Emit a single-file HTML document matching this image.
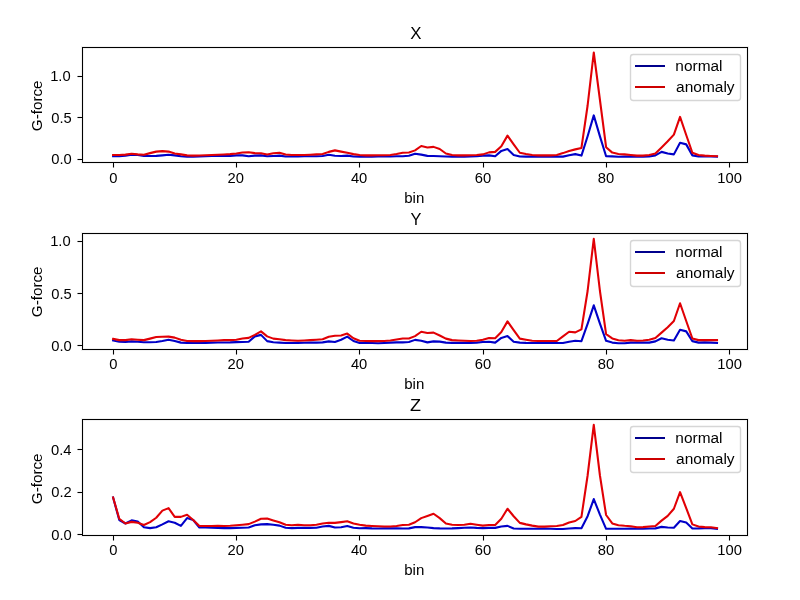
<!DOCTYPE html>
<html lang="en">
<head>
<meta charset="utf-8">
<title>G-force spectrum: normal vs anomaly (X, Y, Z)</title>
<style>
html,body{margin:0;padding:0;background:#fff}
#fig{position:relative;width:800px;height:600px;overflow:hidden;background:#fff;font-family:"Liberation Sans",sans-serif;color:#000}
#fig svg{position:absolute;left:0;top:0;display:block}
#labels{position:absolute;left:0;top:0;width:800px;height:600px;will-change:transform;filter:grayscale(1)}
.t{position:absolute;left:0;top:0;white-space:nowrap;line-height:1;transform-origin:0 0;margin:0;padding:0}
</style>
</head>
<body>
<div id="fig">
<svg width="800" height="600" viewBox="0 0 800 600">
<rect x="0" y="0" width="800" height="600" fill="#ffffff"/>
<polyline points="113.1,156.25 119.26,156.25 125.42,155.62 131.59,154.62 137.75,155 143.91,156 150.07,156 156.24,155.88 162.4,155.38 168.56,154.75 174.72,155.38 180.89,156.25 187.05,156.62 193.21,156.62 199.38,156.5 205.54,156.25 211.7,156 217.86,156 224.02,156 230.19,155.88 236.35,155.38 242.51,155.38 248.67,156.25 254.84,155.62 261,155.38 267.16,156.25 273.32,156 279.49,155.62 285.65,156.5 291.81,156.5 297.98,156.5 304.14,156.25 310.3,156.25 316.46,156.25 322.62,156 328.79,154.75 334.95,155.75 341.11,156 347.27,155.62 353.44,156.5 359.6,156.62 365.76,156.62 371.92,156.62 378.09,156.5 384.25,156.5 390.41,156.5 396.57,156.25 402.74,156.25 408.9,155.75 415.06,153.75 421.23,154.62 427.39,155.88 433.55,156 439.71,156.25 445.88,156.5 452.04,156.62 458.2,156.62 464.36,156.62 470.52,156.5 476.69,156.25 482.85,155.62 489.01,155.38 495.17,156.25 501.34,150.88 507.5,149.12 513.66,155 519.82,156.5 525.99,156.62 532.15,156.62 538.31,156.62 544.48,156.62 550.64,156.62 556.8,156.62 562.96,156.62 569.12,155.25 575.29,154.12 581.45,155.6 587.61,136.2 593.77,115.4 599.94,136.4 606.1,156.2 612.26,156.4 618.42,156.7 624.59,156.6 630.75,156.5 636.91,156.62 643.08,156.62 649.24,156.5 655.4,155.38 661.56,151.88 667.73,153.5 673.89,154.38 680.05,142.75 686.21,144.38 692.38,155.38 698.54,156.5 704.7,156.5 710.86,156.5 717.02,156.62" fill="none" stroke="#0000c8" stroke-width="2.083" stroke-linejoin="round" stroke-linecap="square"/>
<polyline points="113.1,155 119.26,155 125.42,154.62 131.59,153.75 137.75,154.38 143.91,154.75 150.07,153.12 156.24,151.62 162.4,151.12 168.56,151.62 174.72,153.5 180.89,154.38 187.05,155.38 193.21,155.62 199.38,155.5 205.54,155.25 211.7,155 217.86,154.75 224.02,154.5 230.19,154.12 236.35,153.5 242.51,152.5 248.67,152.25 254.84,153.12 261,153.25 267.16,154.5 273.32,153.25 279.49,152.75 285.65,154.5 291.81,155 297.98,155 304.14,155 310.3,154.75 316.46,154.38 322.62,154 328.79,151.88 334.95,150.38 341.11,151.62 347.27,152.75 353.44,154.12 359.6,155 365.76,155.38 371.92,155.38 378.09,155.25 384.25,155.25 390.41,155 396.57,154 402.74,152.75 408.9,152.5 415.06,150.38 421.23,146 427.39,147.5 433.55,146.88 439.71,149 445.88,153.5 452.04,155 458.2,155.38 464.36,155.38 470.52,155.25 476.69,155 482.85,154.38 489.01,152.38 495.17,151.88 501.34,146.25 507.5,135.62 513.66,144.38 519.82,152.75 525.99,154 532.15,155 538.31,155.38 544.48,155.38 550.64,155.38 556.8,155 562.96,153.12 569.12,151 575.29,149.38 581.45,147.9 587.61,105.5 593.77,52.5 599.94,100 606.1,147.2 612.26,152.6 618.42,154 624.59,154.4 630.75,155 636.91,155.62 643.08,155.62 649.24,155 655.4,153.5 661.56,147.5 667.73,141.25 673.89,134.62 680.05,116.88 686.21,135 692.38,152.75 698.54,155 704.7,155.62 710.86,156 717.02,156.25" fill="none" stroke="#e10005" stroke-width="2.083" stroke-linejoin="round" stroke-linecap="square"/>
<path d="M112 163h3v4.5h-3zM235 163h3v4.5h-3zM358 163h3v4.5h-3zM482 163h3v4.5h-3zM605 163h3v4.5h-3zM728 163h3v4.5h-3zM77.5 158h4.5v3h-4.5zM77.5 116h4.5v3h-4.5zM77.5 75h4.5v3h-4.5zM81 46h668v3h-668zM81 161h668v3h-668zM81 46h3v118h-3zM746 46h3v118h-3z" fill="#000" fill-opacity="0.055"/>
<path d="M113 163h1v4.5h-1zM236 163h1v4.5h-1zM359 163h1v4.5h-1zM483 163h1v4.5h-1zM606 163h1v4.5h-1zM729 163h1v4.5h-1zM77.5 159h4.5v1h-4.5zM77.5 117h4.5v1h-4.5zM77.5 76h4.5v1h-4.5zM82 47h666v1h-666zM82 162h666v1h-666zM82 47h1v116h-1zM747 47h1v116h-1z" fill="#000"/>
<rect x="630.5" y="54.5" width="110" height="46" rx="2.8" ry="2.8" fill="#fff" fill-opacity="0.8" stroke="#ccc" stroke-opacity="0.8" stroke-width="1.39"/>
<rect x="635" y="65" width="30" height="2" fill="#00008c"/>
<rect x="635" y="86" width="30" height="2" fill="#cd0000"/>
<polyline points="113.1,340.5 119.26,341.75 125.42,342 131.59,341.38 137.75,341.75 143.91,342.25 150.07,342.25 156.24,342 162.4,341 168.56,339.75 174.72,341 180.89,342.62 187.05,343 193.21,343 199.38,343 205.54,342.88 211.7,342.62 217.86,342.5 224.02,342.5 230.19,342.38 236.35,342.12 242.51,342 248.67,341.75 254.84,336.38 261,334.88 267.16,341.12 273.32,342.25 279.49,342.62 285.65,343 291.81,343 297.98,342.88 304.14,342.75 310.3,342.62 316.46,342.62 322.62,342.38 328.79,341.38 334.95,342 341.11,339.75 347.27,336.62 353.44,341 359.6,342.88 365.76,343 371.92,343 378.09,343.25 384.25,343 390.41,342.62 396.57,342.38 402.74,342.38 408.9,342 415.06,339.88 421.23,340.75 427.39,342.38 433.55,341.38 439.71,341.62 445.88,342.62 452.04,342.88 458.2,342.88 464.36,342.88 470.52,342.88 476.69,342.62 482.85,342 489.01,341.75 495.17,342.62 501.34,337.88 507.5,336.12 513.66,341.75 519.82,342.62 525.99,342.88 532.15,343 538.31,343 544.48,343 550.64,343 556.8,343 562.96,343 569.12,341.75 575.29,340.75 581.45,341.2 587.61,323.8 593.77,305.3 599.94,323.6 606.1,340.8 612.26,342.6 618.42,343.2 624.59,343.2 630.75,342.62 636.91,342.62 643.08,342.62 649.24,342.62 655.4,341.38 661.56,338.25 667.73,339.75 673.89,340.5 680.05,329.75 686.21,331.38 692.38,341.12 698.54,342.62 704.7,342.38 710.86,342.62 717.02,343" fill="none" stroke="#0000c8" stroke-width="2.083" stroke-linejoin="round" stroke-linecap="square"/>
<polyline points="113.1,338.88 119.26,340.12 125.42,340.12 131.59,339.25 137.75,339.75 143.91,340.12 150.07,338.62 156.24,337 162.4,336.75 168.56,336.62 174.72,337.62 180.89,339.75 187.05,341 193.21,341.12 199.38,341.12 205.54,341 211.7,340.75 217.86,340.5 224.02,340.12 230.19,340.12 236.35,339.75 242.51,338.5 248.67,337.88 254.84,334.88 261,331.38 267.16,336.38 273.32,338.62 279.49,339.25 285.65,340.12 291.81,340.5 297.98,340.75 304.14,340.5 310.3,340.12 316.46,339.75 322.62,339.25 328.79,336.75 334.95,335.75 341.11,335.5 347.27,333.62 353.44,338.25 359.6,340.75 365.76,341 371.92,341.12 378.09,341.12 384.25,341 390.41,340.5 396.57,339.5 402.74,338.5 408.9,338.5 415.06,336.12 421.23,331.75 427.39,333 433.55,332.62 439.71,335.5 445.88,338.62 452.04,340.12 458.2,340.5 464.36,340.75 470.52,341 476.69,340.75 482.85,339.75 489.01,338 495.17,338.25 501.34,332 507.5,321.38 513.66,330.12 519.82,338.62 525.99,339.75 532.15,340.75 538.31,341 544.48,341 550.64,341 556.8,341 562.96,336.38 569.12,331.75 575.29,332.38 581.45,329.4 587.61,291 593.77,238.8 599.94,291 606.1,334.2 612.26,338.4 618.42,340.2 624.59,340.8 630.75,340.12 636.91,340.75 643.08,340.5 649.24,339.75 655.4,338 661.56,332.62 667.73,327.25 673.89,321 680.05,303.25 686.21,321 692.38,338.5 698.54,340.12 704.7,340.12 710.86,340.12 717.02,340.12" fill="none" stroke="#e10005" stroke-width="2.083" stroke-linejoin="round" stroke-linecap="square"/>
<path d="M112 350h3v4.5h-3zM235 350h3v4.5h-3zM358 350h3v4.5h-3zM482 350h3v4.5h-3zM605 350h3v4.5h-3zM728 350h3v4.5h-3zM77.5 344h4.5v3h-4.5zM77.5 292h4.5v3h-4.5zM77.5 240h4.5v3h-4.5zM81 232h668v3h-668zM81 348h668v3h-668zM81 232h3v119h-3zM746 232h3v119h-3z" fill="#000" fill-opacity="0.055"/>
<path d="M113 350h1v4.5h-1zM236 350h1v4.5h-1zM359 350h1v4.5h-1zM483 350h1v4.5h-1zM606 350h1v4.5h-1zM729 350h1v4.5h-1zM77.5 345h4.5v1h-4.5zM77.5 293h4.5v1h-4.5zM77.5 241h4.5v1h-4.5zM82 233h666v1h-666zM82 349h666v1h-666zM82 233h1v117h-1zM747 233h1v117h-1z" fill="#000"/>
<rect x="630.5" y="240.5" width="110" height="46" rx="2.8" ry="2.8" fill="#fff" fill-opacity="0.8" stroke="#ccc" stroke-opacity="0.8" stroke-width="1.39"/>
<rect x="635" y="251" width="30" height="2" fill="#00008c"/>
<rect x="635" y="272" width="30" height="2" fill="#cd0000"/>
<polyline points="113.1,497.5 119.26,520 125.42,523.5 131.59,520.38 137.75,521.5 143.91,527.25 150.07,528.12 156.24,527.25 162.4,524.38 168.56,521.25 174.72,522.75 180.89,525.88 187.05,518.12 193.21,520 199.38,527.5 205.54,527.5 211.7,527.75 217.86,527.88 224.02,528.12 230.19,528.12 236.35,527.88 242.51,527.75 248.67,527.5 254.84,525.25 261,524.38 267.16,524.12 273.32,524.75 279.49,525.62 285.65,527.75 291.81,528.12 297.98,527.88 304.14,527.88 310.3,527.88 316.46,527.75 322.62,526.5 328.79,525.88 334.95,527.5 341.11,527.25 347.27,526 353.44,527.75 359.6,528.25 365.76,528.12 371.92,528.38 378.09,528.5 384.25,528.38 390.41,528.38 396.57,528.38 402.74,528.5 408.9,528.38 415.06,527.12 421.23,527.12 427.39,527.5 433.55,528.12 439.71,528.38 445.88,528.5 452.04,528.38 458.2,528.12 464.36,527.75 470.52,527.5 476.69,527.88 482.85,528.12 489.01,527.88 495.17,527.88 501.34,526.5 507.5,525.88 513.66,528.5 519.82,528.75 525.99,528.75 532.15,528.75 538.31,528.75 544.48,528.5 550.64,528.75 556.8,529 562.96,529 569.12,528.5 575.29,528.12 581.45,528.2 587.61,516.2 593.77,499.1 599.94,514.6 606.1,528.8 612.26,528.8 618.42,528.8 624.59,528.8 630.75,528.5 636.91,528.75 643.08,528.75 649.24,528.5 655.4,528.38 661.56,526.88 667.73,527.5 673.89,527.75 680.05,521 686.21,522.5 692.38,528.5 698.54,528.38 704.7,528.12 710.86,528.12 717.02,528.75" fill="none" stroke="#0000c8" stroke-width="2.083" stroke-linejoin="round" stroke-linecap="square"/>
<polyline points="113.1,497.5 119.26,518.75 125.42,523.5 131.59,521.88 137.75,522.75 143.91,525 150.07,522.12 156.24,517.75 162.4,510.62 168.56,508.12 174.72,516.88 180.89,516.88 187.05,514.75 193.21,520 199.38,526 205.54,526 211.7,526 217.86,525.75 224.02,526 230.19,525.75 236.35,525.25 242.51,524.75 248.67,524.12 254.84,521.62 261,518.75 267.16,518.5 273.32,520.38 279.49,522.25 285.65,524.75 291.81,525.25 297.98,524.75 304.14,525.25 310.3,525.25 316.46,524.75 322.62,523.5 328.79,522.75 334.95,522.88 341.11,522.12 347.27,521.25 353.44,523.5 359.6,524.75 365.76,525.62 371.92,526 378.09,526.25 384.25,526.5 390.41,526.5 396.57,526 402.74,525 408.9,524.75 415.06,522.25 421.23,518.12 427.39,516 433.55,513.75 439.71,518.12 445.88,523.5 452.04,524.75 458.2,525 464.36,524.75 470.52,523.75 476.69,524.75 482.85,525.62 489.01,525 495.17,525 501.34,518.75 507.5,508.75 513.66,516.25 519.82,522.88 525.99,524.38 532.15,525.62 538.31,526.62 544.48,526.62 550.64,526.25 556.8,526 562.96,525 569.12,522.5 575.29,521 581.45,516.8 587.61,475.5 593.77,424.8 599.94,475.5 606.1,515 612.26,523.4 618.42,525.2 624.59,525.8 630.75,526.25 636.91,527.25 643.08,527.12 649.24,526.5 655.4,526 661.56,520.62 667.73,515.88 673.89,508.75 680.05,492.12 686.21,508.12 692.38,524.38 698.54,526.5 704.7,527.12 710.86,527.25 717.02,528.12" fill="none" stroke="#e10005" stroke-width="2.083" stroke-linejoin="round" stroke-linecap="square"/>
<path d="M112 536h3v4.5h-3zM235 536h3v4.5h-3zM358 536h3v4.5h-3zM482 536h3v4.5h-3zM605 536h3v4.5h-3zM728 536h3v4.5h-3zM77.5 533h4.5v3h-4.5zM77.5 491h4.5v3h-4.5zM77.5 448h4.5v3h-4.5zM81 418h668v3h-668zM81 534h668v3h-668zM81 418h3v119h-3zM746 418h3v119h-3z" fill="#000" fill-opacity="0.055"/>
<path d="M113 536h1v4.5h-1zM236 536h1v4.5h-1zM359 536h1v4.5h-1zM483 536h1v4.5h-1zM606 536h1v4.5h-1zM729 536h1v4.5h-1zM77.5 534h4.5v1h-4.5zM77.5 492h4.5v1h-4.5zM77.5 449h4.5v1h-4.5zM82 419h666v1h-666zM82 535h666v1h-666zM82 419h1v117h-1zM747 419h1v117h-1z" fill="#000"/>
<rect x="630.5" y="426.5" width="110" height="46" rx="2.8" ry="2.8" fill="#fff" fill-opacity="0.8" stroke="#ccc" stroke-opacity="0.8" stroke-width="1.39"/>
<rect x="635" y="437" width="30" height="2" fill="#00008c"/>
<rect x="635" y="458" width="30" height="2" fill="#cd0000"/>
</svg>
<div id="labels">
<div class="t" style="font-size:16.333px;transform:translate(410.203px,24.982px) scale(1.0298,1)">X</div>
<div class="t" style="font-size:14.019px;transform:translate(404.191px,191.019px) scale(1.0753,1)">bin</div>
<div class="t" style="font-size:14.019px;transform:translate(30.003px,131.13px) rotate(-90deg) scale(1.0852,1)">G-force</div>
<div class="t" style="font-size:14.019px;transform:translate(675.372px,59.003px) scale(1.1013,1)">normal</div>
<div class="t" style="font-size:14.019px;transform:translate(676.066px,80.021px) scale(1.1052,1)">anomaly</div>
<div class="t" style="font-size:15.147px;transform:translate(109.243px,170.021px) scale(0.9743,1)">0</div>
<div class="t" style="font-size:15.147px;transform:translate(227.502px,169.982px) scale(0.9743,1)">20</div>
<div class="t" style="font-size:15.147px;transform:translate(350.887px,170.02px) scale(0.9743,1)">40</div>
<div class="t" style="font-size:15.147px;transform:translate(474.707px,170.019px) scale(0.9743,1)">60</div>
<div class="t" style="font-size:15.147px;transform:translate(597.774px,170.007px) scale(0.9743,1)">80</div>
<div class="t" style="font-size:15.147px;transform:translate(717.317px,169.986px) scale(0.9743,1)">100</div>
<div class="t" style="font-size:15.147px;transform:translate(51.191px,151.022px) scale(0.9743,1)">0.0</div>
<div class="t" style="font-size:15.147px;transform:translate(51.19px,110.008px) scale(0.9743,1)">0.5</div>
<div class="t" style="font-size:15.147px;transform:translate(50.15px,67.982px) scale(0.9743,1)">1.0</div>
<div class="t" style="font-size:16.333px;transform:translate(410.477px,210.983px) scale(0.9997,1)">Y</div>
<div class="t" style="font-size:14.019px;transform:translate(404.191px,377.019px) scale(1.0753,1)">bin</div>
<div class="t" style="font-size:14.019px;transform:translate(30.003px,317.13px) rotate(-90deg) scale(1.0852,1)">G-force</div>
<div class="t" style="font-size:14.019px;transform:translate(675.372px,245.003px) scale(1.1013,1)">normal</div>
<div class="t" style="font-size:14.019px;transform:translate(676.066px,266.021px) scale(1.1052,1)">anomaly</div>
<div class="t" style="font-size:15.147px;transform:translate(109.243px,356.021px) scale(0.9743,1)">0</div>
<div class="t" style="font-size:15.147px;transform:translate(227.502px,355.982px) scale(0.9743,1)">20</div>
<div class="t" style="font-size:15.147px;transform:translate(350.887px,356.02px) scale(0.9743,1)">40</div>
<div class="t" style="font-size:15.147px;transform:translate(474.707px,356.019px) scale(0.9743,1)">60</div>
<div class="t" style="font-size:15.147px;transform:translate(597.774px,356.007px) scale(0.9743,1)">80</div>
<div class="t" style="font-size:15.147px;transform:translate(717.317px,355.986px) scale(0.9743,1)">100</div>
<div class="t" style="font-size:15.147px;transform:translate(51.191px,338.022px) scale(0.9743,1)">0.0</div>
<div class="t" style="font-size:15.147px;transform:translate(51.19px,286.008px) scale(0.9743,1)">0.5</div>
<div class="t" style="font-size:15.147px;transform:translate(50.15px,232.982px) scale(0.9743,1)">1.0</div>
<div class="t" style="font-size:16.333px;transform:translate(409.991px,396.995px) scale(1.1063,1)">Z</div>
<div class="t" style="font-size:14.019px;transform:translate(404.191px,563.019px) scale(1.0753,1)">bin</div>
<div class="t" style="font-size:14.019px;transform:translate(30.003px,504.13px) rotate(-90deg) scale(1.0852,1)">G-force</div>
<div class="t" style="font-size:14.019px;transform:translate(675.372px,431.003px) scale(1.1013,1)">normal</div>
<div class="t" style="font-size:14.019px;transform:translate(676.066px,452.021px) scale(1.1052,1)">anomaly</div>
<div class="t" style="font-size:15.147px;transform:translate(109.243px,542.021px) scale(0.9743,1)">0</div>
<div class="t" style="font-size:15.147px;transform:translate(227.502px,541.982px) scale(0.9743,1)">20</div>
<div class="t" style="font-size:15.147px;transform:translate(350.887px,542.02px) scale(0.9743,1)">40</div>
<div class="t" style="font-size:15.147px;transform:translate(474.707px,542.019px) scale(0.9743,1)">60</div>
<div class="t" style="font-size:15.147px;transform:translate(597.774px,542.007px) scale(0.9743,1)">80</div>
<div class="t" style="font-size:15.147px;transform:translate(717.317px,541.986px) scale(0.9743,1)">100</div>
<div class="t" style="font-size:15.147px;transform:translate(51.191px,527.022px) scale(0.9743,1)">0.0</div>
<div class="t" style="font-size:15.147px;transform:translate(51.241px,484.002px) scale(0.9743,1)">0.2</div>
<div class="t" style="font-size:15.147px;transform:translate(50.995px,442.02px) scale(0.9743,1)">0.4</div>
</div>
</div>
</body>
</html>
